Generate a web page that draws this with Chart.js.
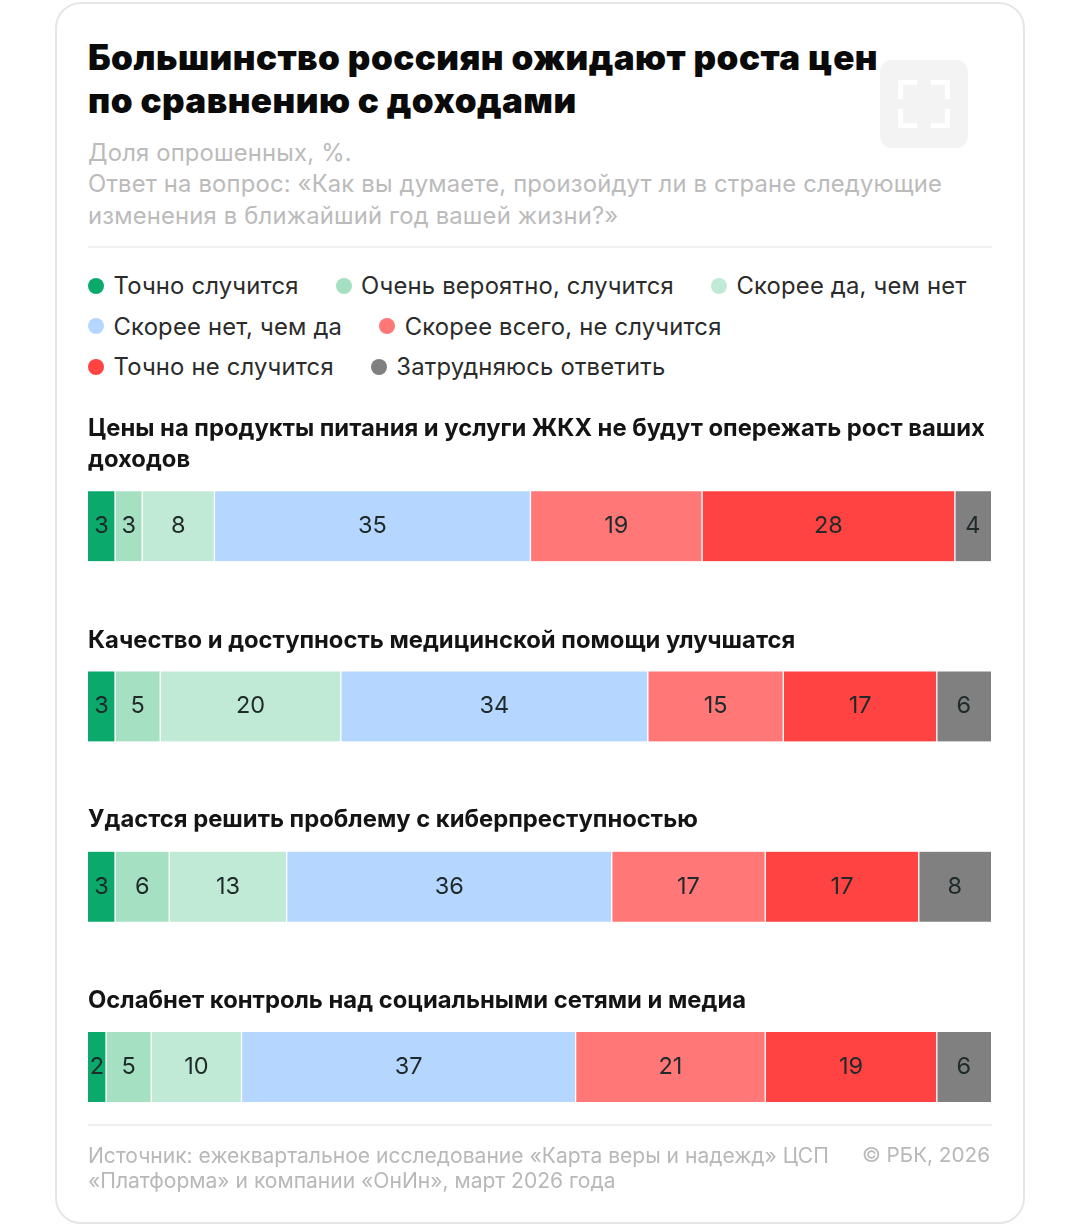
<!DOCTYPE html>
<html lang="ru"><head><meta charset="utf-8">
<script src="https://cdn.jsdelivr.net/npm/chart.js@4/dist/chart.umd.min.js"></script>
<style>
html,body{margin:0;padding:0;background:#fff;width:1065px;height:1224px;overflow:hidden;font-family:Inter,"Noto Sans",sans-serif}
.a{position:absolute;white-space:nowrap}
#card{position:absolute;left:55px;top:2px;width:966px;height:1218px;border:2px solid #e6e6e6;border-radius:26px;box-sizing:content-box}
#title{left:88px;top:36px;font-size:35px;font-weight:900;line-height:43px;color:#0a0a0a;letter-spacing:.45px}
#sub{left:88px;top:137px;font-size:23.8px;line-height:31.4px;letter-spacing:.18px;color:#bbbbbb}
#sep{left:88px;top:246px;width:904px;height:2px;background:#f0f0f0}
#sep2{left:88px;top:1124px;width:904px;height:2px;background:#f0f0f0}
#icon{left:880px;top:60px;width:88px;height:88px;border-radius:12px;background:#f3f3f3}
.cn{position:absolute;width:14px;height:14px;border:0 solid #fff}
#legend{position:absolute;left:88px;top:265.5px;width:904px;display:flex;flex-wrap:wrap;column-gap:37px;row-gap:0}
.li{display:flex;align-items:center;height:40.5px;font-size:23.8px;letter-spacing:.2px;color:#2b2b2b;white-space:nowrap}
.dot{width:16px;height:16px;border-radius:50%;margin-right:9.5px}
.rt{font-size:23.8px;font-weight:700;line-height:31px;color:#141414;left:88px;white-space:normal;width:905px}
#src{left:88px;top:1143px;font-size:21.05px;line-height:25px;color:#b8b8b8}
#copy{right:75px;top:1142px;font-size:20.7px;line-height:25px;color:#b8b8b8}
#cw{position:absolute;left:88px;top:436px;width:903px;height:721px}
</style></head><body>
<div id="card"></div>
<div class="a" id="title">Большинство россиян ожидают роста цен<br>по сравнению с доходами</div>
<div class="a" id="icon">
<div class="cn" style="left:18px;top:20px;border-left-width:5px;border-top-width:5px"></div>
<div class="cn" style="right:18px;top:20px;border-right-width:5px;border-top-width:5px"></div>
<div class="cn" style="left:18px;bottom:20px;border-left-width:5px;border-bottom-width:5px"></div>
<div class="cn" style="right:18px;bottom:20px;border-right-width:5px;border-bottom-width:5px"></div>
</div>
<div class="a" id="sub">Доля опрошенных, %.<br>Ответ на вопрос: «Как вы думаете, произойдут ли в стране следующие<br>изменения в ближайший год вашей жизни?»</div>
<div class="a" id="sep"></div>
<div id="legend"></div>
<div id="cw"><canvas id="c"></canvas></div>
<div id="titles"></div>
<div class="a" id="sep2"></div>
<div class="a" id="src">Источник: ежеквартальное исследование «Карта веры и надежд» ЦСП<br>«Платформа» и компании «ОнИн», март 2026 года</div>
<div class="a" id="copy">© РБК, 2026</div>
<script>
const categories = [
  "Цены на продукты питания и услуги ЖКХ не будут опережать рост ваших доходов",
  "Качество и доступность медицинской помощи улучшатся",
  "Удастся решить проблему с киберпреступностью",
  "Ослабнет контроль над социальными сетями и медиа"
];
const seriesNames = ["Точно случится","Очень вероятно, случится","Скорее да, чем нет","Скорее нет, чем да","Скорее всего, не случится","Точно не случится","Затрудняюсь ответить"];
const seriesColors = ["#0ba96b","#a6e0c3","#c0ead6","#b5d7ff","#ff7777","#ff4242","#808080"];
const definitely = [3,3,3,2];
const veryLikely = [3,5,6,5];
const ratherYes = [8,20,13,10];
const ratherNo = [35,34,36,37];
const probablyNot = [19,15,17,21];
const definitelyNot = [28,17,17,19];
const hardToSay = [4,6,8,6];
const seriesValues = [definitely,veryLikely,ratherYes,ratherNo,probablyNot,definitelyNot,hardToSay];
const titleTops = [412,624,803,984];

const legend = document.getElementById('legend');
seriesNames.forEach((n,i)=>{
  const d=document.createElement('div');d.className='li';
  const s=document.createElement('span');s.className='dot';s.style.background=seriesColors[i];
  d.appendChild(s);d.appendChild(document.createTextNode(n));legend.appendChild(d);
});
const tt=document.getElementById('titles');
categories.forEach((n,i)=>{
  const d=document.createElement('div');d.className='a rt';d.style.top=titleTops[i]+'px';d.textContent=n;tt.appendChild(d);
});
const valueLabels={id:'valueLabels',afterDatasetsDraw(chart){
  const c=chart.ctx;c.save();
  c.font='23.5px Inter';c.textAlign='center';c.textBaseline='middle';c.fillStyle='#1f2a2a';
  chart.data.datasets.forEach((ds,i)=>{
    chart.getDatasetMeta(i).data.forEach((b,j)=>{
      const p=b.getProps(['x','y','base'],true);
      c.fillText(ds.data[j],(p.x+p.base)/2,p.y);
    });
  });
  c.restore();
}};
new Chart(document.getElementById('c'),{
  type:'bar',
  data:{labels:categories,datasets:seriesNames.map((n,i)=>({
    label:n,data:seriesValues[i],backgroundColor:seriesColors[i],
    borderColor:'#ffffff',
    borderWidth:{left:i>0?1:0,right:i<seriesNames.length-1?1:0},
    borderSkipped:false,barThickness:70
  }))},
  options:{indexAxis:'y',responsive:true,maintainAspectRatio:false,animation:false,
    layout:{padding:0},
    plugins:{legend:{display:false},tooltip:{enabled:false}},
    scales:{x:{stacked:true,min:0,max:100,display:false},y:{stacked:true,display:false}}},
  plugins:[valueLabels]
});
</script>
</body></html>
